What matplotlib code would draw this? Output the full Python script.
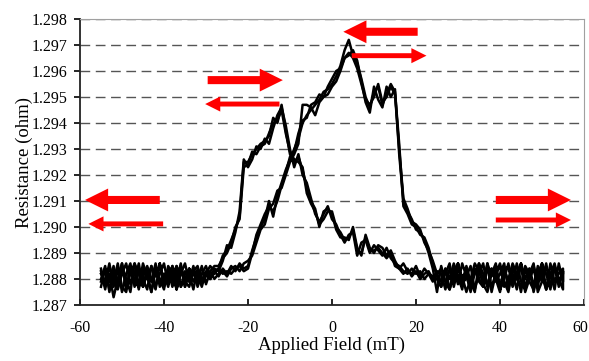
import matplotlib
matplotlib.use("Agg")
import matplotlib.pyplot as plt
from matplotlib.patches import FancyArrow
from matplotlib.transforms import ScaledTranslation

plt.rcParams["font.family"] = ["Liberation Serif", "DejaVu Serif"]

# applied field grid (mT), shared by every sweep
FIELD = [-55, -54, -53, -52, -51, -50, -49, -48, -47, -46,
         -45, -44, -43, -42, -41, -40, -39, -38, -37, -36,
         -35, -34, -33, -32, -31, -30, -29, -28, -27, -26,
         -25, -24, -23, -22, -21, -20, -19, -18, -17, -16,
         -15, -14, -13, -12, -11, -10, -9, -8, -7, -6,
         -5, -4, -3, -2, -1, 0, 1, 2, 3, 4,
         5, 6, 7, 8, 9, 10, 11, 12, 13, 14,
         15, 16, 17, 18, 19, 20, 21, 22, 23, 24,
         25, 26, 27, 28, 29, 30, 31, 32, 33, 34,
         35, 36, 37, 38, 39, 40, 41, 42, 43, 44,
         45, 46, 47, 48, 49, 50, 51, 52, 53, 54, 55]

# resistance (ohm), branch with the peak near +4 mT
UP_1 = [1.2877, 1.2884, 1.2879, 1.2885, 1.2876, 1.2882, 1.2886, 1.2878, 1.2883, 1.2876,
        1.2884, 1.2880, 1.2885, 1.2877, 1.2882, 1.2886, 1.2878, 1.2881, 1.2885, 1.2877,
        1.2883, 1.2879, 1.2885, 1.2878, 1.2882,
        1.2882, 1.2880, 1.2883, 1.2881, 1.2884, 1.2882, 1.2885, 1.2883, 1.2886, 1.2884,
        1.2885, 1.2891, 1.2896, 1.2900, 1.2903, 1.2910, 1.2904, 1.2912, 1.2917, 1.2922, 1.2926,
        1.2930, 1.2934, 1.2940, 1.2943, 1.2945, 1.2947, 1.2949, 1.2952, 1.2953,
        1.2955, 1.2958, 1.2962, 1.2968, 1.2972, 1.2966, 1.2963, 1.2957, 1.2950, 1.2946,
        1.2952, 1.2954, 1.2947, 1.2951, 1.2955, 1.2952, 1.2932,
        1.2908, 1.2905, 1.2901, 1.2900, 1.2897, 1.2896, 1.2892, 1.2886, 1.2881,
        1.2877, 1.2884, 1.2876, 1.2882, 1.2886, 1.2878, 1.2881, 1.2885, 1.2876, 1.2882,
        1.2886, 1.2877, 1.2884, 1.2880, 1.2875, 1.2883, 1.2885, 1.2878, 1.2886, 1.2879,
        1.2876, 1.2884, 1.2878, 1.2882, 1.2886, 1.2876, 1.2881, 1.2885, 1.2877, 1.2883]

UP_2 = [1.2883, 1.2876, 1.2885, 1.2879, 1.2886, 1.2877, 1.2875, 1.2884, 1.2879, 1.2886,
        1.2877, 1.2882, 1.2875, 1.2884, 1.2880, 1.2876, 1.2885, 1.2882, 1.2876, 1.2884,
        1.2879, 1.2877, 1.2883, 1.2885, 1.2879,
        1.2881, 1.2883, 1.2880, 1.2882, 1.2883, 1.2881, 1.2884, 1.2885, 1.2883, 1.2886,
        1.2887, 1.2889, 1.2894, 1.2899, 1.2901, 1.2907, 1.2909, 1.2914, 1.2915, 1.2920, 1.2925,
        1.2928, 1.2932, 1.2947, 1.2947, 1.2946, 1.2943, 1.2948, 1.2950, 1.2951,
        1.2954, 1.2956, 1.2960, 1.2965, 1.2966, 1.2968, 1.2964, 1.2956, 1.2948, 1.2944,
        1.2954, 1.2949, 1.2946, 1.2954, 1.2950, 1.2953, 1.2928,
        1.2910, 1.2906, 1.2903, 1.2899, 1.2898, 1.2895, 1.2890, 1.2884, 1.2875,
        1.2885, 1.2879, 1.2876, 1.2884, 1.2878, 1.2886, 1.2881, 1.2876, 1.2884, 1.2879,
        1.2877, 1.2886, 1.2875, 1.2882, 1.2885, 1.2877, 1.2880, 1.2886, 1.2882, 1.2875,
        1.2884, 1.2879, 1.2876, 1.2885, 1.2881, 1.2876, 1.2886, 1.2879, 1.2882, 1.2884]

UP_3 = [1.2880, 1.2885, 1.2875, 1.2883, 1.2879, 1.2886, 1.2877, 1.2882, 1.2886, 1.2878,
        1.2881, 1.2885, 1.2880, 1.2876, 1.2886, 1.2879, 1.2884, 1.2877, 1.2882, 1.2885,
        1.2877, 1.2884, 1.2879, 1.2882, 1.2877,
        1.2883, 1.2881, 1.2882, 1.2884, 1.2882, 1.2883, 1.2882, 1.2884, 1.2885, 1.2883,
        1.2884, 1.2890, 1.2897, 1.2901, 1.2905, 1.2908, 1.2906, 1.2910, 1.2916, 1.2921, 1.2927,
        1.2929, 1.2936, 1.2941, 1.2942, 1.2947, 1.2948, 1.2951, 1.2950, 1.2954,
        1.2957, 1.2960, 1.2961, 1.2965, 1.2967, 1.2965, 1.2961, 1.2955, 1.2949, 1.2947,
        1.2950, 1.2955, 1.2948, 1.2950, 1.2954, 1.2951, 1.2930,
        1.2911, 1.2907, 1.2902, 1.2901, 1.2899, 1.2894, 1.2891, 1.2887, 1.2882,
        1.2879, 1.2882, 1.2886, 1.2877, 1.2884, 1.2881, 1.2875, 1.2880, 1.2886, 1.2883,
        1.2878, 1.2875, 1.2882, 1.2886, 1.2877, 1.2884, 1.2879, 1.2882, 1.2876, 1.2886,
        1.2880, 1.2884, 1.2875, 1.2882, 1.2879, 1.2886, 1.2877, 1.2884, 1.2880, 1.2876]

# resistance (ohm), branch with the peak near -12 mT
DOWN_1 = [1.2884, 1.2877, 1.2882, 1.2873, 1.2880, 1.2886, 1.2876, 1.2884, 1.2879, 1.2877,
          1.2886, 1.2881, 1.2875, 1.2884, 1.2879, 1.2882, 1.2877, 1.2885, 1.2879, 1.2886,
          1.2877, 1.2882, 1.2876, 1.2884, 1.2880, 1.2882, 1.2885, 1.2883,
          1.2884, 1.2889, 1.2891, 1.2895, 1.2899, 1.2904, 1.2925,
          1.2925, 1.2928, 1.2930, 1.2932, 1.2933, 1.2935, 1.2942, 1.2940, 1.2947,
          1.2937, 1.2928, 1.2925, 1.2927, 1.2922, 1.2915, 1.2910, 1.2907, 1.2900, 1.2906, 1.2907,
          1.2905, 1.2899, 1.2896, 1.2896, 1.2895, 1.2900, 1.2892, 1.2889, 1.2897, 1.2892,
          1.2890, 1.2893, 1.2892, 1.2889, 1.2891, 1.2887, 1.2884, 1.2886, 1.2883, 1.2882,
          1.2885, 1.2881, 1.2884, 1.2882, 1.2879, 1.2883,
          1.2882, 1.2876, 1.2884, 1.2879, 1.2886, 1.2877, 1.2882, 1.2875, 1.2884, 1.2880,
          1.2877, 1.2886, 1.2881, 1.2884, 1.2876, 1.2880, 1.2886, 1.2877, 1.2882, 1.2885,
          1.2875, 1.2880, 1.2884, 1.2877, 1.2886, 1.2882, 1.2876, 1.2885, 1.2879, 1.2882]

DOWN_2 = [1.2879, 1.2884, 1.2876, 1.2882, 1.2877, 1.2885, 1.2880, 1.2875, 1.2886, 1.2882,
          1.2877, 1.2884, 1.2879, 1.2886, 1.2877, 1.2882, 1.2880, 1.2885, 1.2876, 1.2882,
          1.2886, 1.2879, 1.2884, 1.2877, 1.2882, 1.2885, 1.2880, 1.2884,
          1.2883, 1.2887, 1.2893, 1.2892, 1.2898, 1.2906, 1.2926,
          1.2923, 1.2926, 1.2931, 1.2930, 1.2934, 1.2932, 1.2938, 1.2943, 1.2946,
          1.2939, 1.2930, 1.2923, 1.2928, 1.2920, 1.2917, 1.2911, 1.2905, 1.2902, 1.2905, 1.2908,
          1.2903, 1.2901, 1.2897, 1.2894, 1.2897, 1.2898, 1.2889, 1.2894, 1.2895, 1.2890,
          1.2893, 1.2891, 1.2889, 1.2892, 1.2888, 1.2886, 1.2885, 1.2883, 1.2882, 1.2884,
          1.2882, 1.2883, 1.2880, 1.2882, 1.2881, 1.2880,
          1.2877, 1.2884, 1.2880, 1.2886, 1.2881, 1.2876, 1.2885, 1.2879, 1.2875, 1.2886,
          1.2882, 1.2877, 1.2884, 1.2879, 1.2882, 1.2886, 1.2876, 1.2884, 1.2880, 1.2877,
          1.2885, 1.2882, 1.2886, 1.2875, 1.2879, 1.2884, 1.2882, 1.2876, 1.2886, 1.2879]

DOWN_3 = [1.2882, 1.2879, 1.2886, 1.2877, 1.2884, 1.2875, 1.2882, 1.2886, 1.2877, 1.2884,
          1.2880, 1.2876, 1.2885, 1.2881, 1.2886, 1.2877, 1.2882, 1.2879, 1.2885, 1.2877,
          1.2880, 1.2884, 1.2882, 1.2879, 1.2885, 1.2878, 1.2883, 1.2885,
          1.2885, 1.2888, 1.2890, 1.2894, 1.2900, 1.2903, 1.2923,
          1.2924, 1.2929, 1.2928, 1.2931, 1.2932, 1.2936, 1.2940, 1.2941, 1.2945,
          1.2936, 1.2929, 1.2926, 1.2925, 1.2923, 1.2913, 1.2909, 1.2906, 1.2901, 1.2903, 1.2906,
          1.2906, 1.2900, 1.2898, 1.2895, 1.2896, 1.2899, 1.2891, 1.2890, 1.2896, 1.2891,
          1.2891, 1.2892, 1.2890, 1.2888, 1.2890, 1.2885, 1.2884, 1.2882, 1.2884, 1.2881,
          1.2883, 1.2880, 1.2882, 1.2883, 1.2880, 1.2882,
          1.2884, 1.2879, 1.2876, 1.2882, 1.2886, 1.2880, 1.2884, 1.2877, 1.2882, 1.2886,
          1.2879, 1.2884, 1.2877, 1.2882, 1.2886, 1.2879, 1.2875, 1.2884, 1.2882, 1.2886,
          1.2877, 1.2881, 1.2885, 1.2879, 1.2884, 1.2876, 1.2882, 1.2886, 1.2879, 1.2883]

UP_SWEEPS = [UP_1, UP_2, UP_3]
DOWN_SWEEPS = [DOWN_1, DOWN_2, DOWN_3]

X_TICKS = [-60, -40, -20, 0, 20, 40, 60]
Y_TICKS = [1.287, 1.288, 1.289, 1.290, 1.291, 1.292, 1.293, 1.294, 1.295, 1.296, 1.297, 1.298]

# red sweep-direction arrows: (tail x, tip x, y, thick?)
ARROWS = [
    (20.4, 2.7, 1.29751, True),
    (4.7, 22.5, 1.29659, False),
    (-29.6, -11.7, 1.29565, True),
    (-12.5, -30.2, 1.29473, False),
    (-41.0, -58.8, 1.29104, True),
    (-40.2, -58.0, 1.29012, False),
    (39.0, 56.9, 1.29104, True),
    (39.0, 56.9, 1.29027, False),
]


def draw_arrows(ax):
    for tail, tip, y, thick in ARROWS:
        if thick:
            w, hw, hl = 0.00031, 0.00088, 5.5
        else:
            w, hw, hl = 0.00019, 0.00058, 3.6
        ax.add_patch(FancyArrow(tail, y, tip - tail, 0, width=w, head_width=hw,
                                head_length=hl, length_includes_head=True,
                                color="#ff0000", lw=0, zorder=4))


def main():
    fig = plt.figure(figsize=(5.89, 3.61), dpi=100)
    ax = fig.add_axes([0.1358, 0.1551, 0.8557, 0.7922])

    for up, down in zip(UP_SWEEPS, DOWN_SWEEPS):
        ax.plot(FIELD + FIELD[::-1], up + down[::-1], color="black", lw=1.8, zorder=3)

    draw_arrows(ax)

    ax.set_xlim(-60, 60)
    ax.set_ylim(1.287, 1.298)
    ax.set_xticks(X_TICKS)
    ax.set_yticks(Y_TICKS)
    ax.set_yticklabels([f"{v:.3f}" for v in Y_TICKS])
    ax.set_xticklabels([str(v) for v in X_TICKS])

    for y in Y_TICKS[1:]:
        ax.axhline(y, color="#555555", lw=1.0, dashes=(7, 4), zorder=1)

    for side in ("top", "right"):
        ax.spines[side].set_color("#a0a0a0")
        ax.spines[side].set_linewidth(0.8)
    for side in ("left", "bottom"):
        ax.spines[side].set_color("#222222")
        ax.spines[side].set_linewidth(1.3)

    ax.tick_params(axis="x", direction="in", length=4, width=1.2, pad=11, labelsize=11.5)
    ax.tick_params(axis="y", direction="out", length=4, width=1.2, pad=5, labelsize=11.5)

    # last x label sits a little left of its tick so it stays inside the figure
    last = ax.get_xticklabels()[-1]
    last.set_transform(last.get_transform() + ScaledTranslation(-4 / 100, 0, fig.dpi_scale_trans))

    ax.set_xlabel("Applied Field (mT)", fontsize=13.5)
    ax.set_ylabel("Resistance (ohm)", fontsize=13.5)
    ax.xaxis.set_label_coords(0.5, -0.112)
    ax.yaxis.set_label_coords(-0.093, 0.5)

    fig.savefig("out.png", dpi=100)


if __name__ == "__main__":
    main()
